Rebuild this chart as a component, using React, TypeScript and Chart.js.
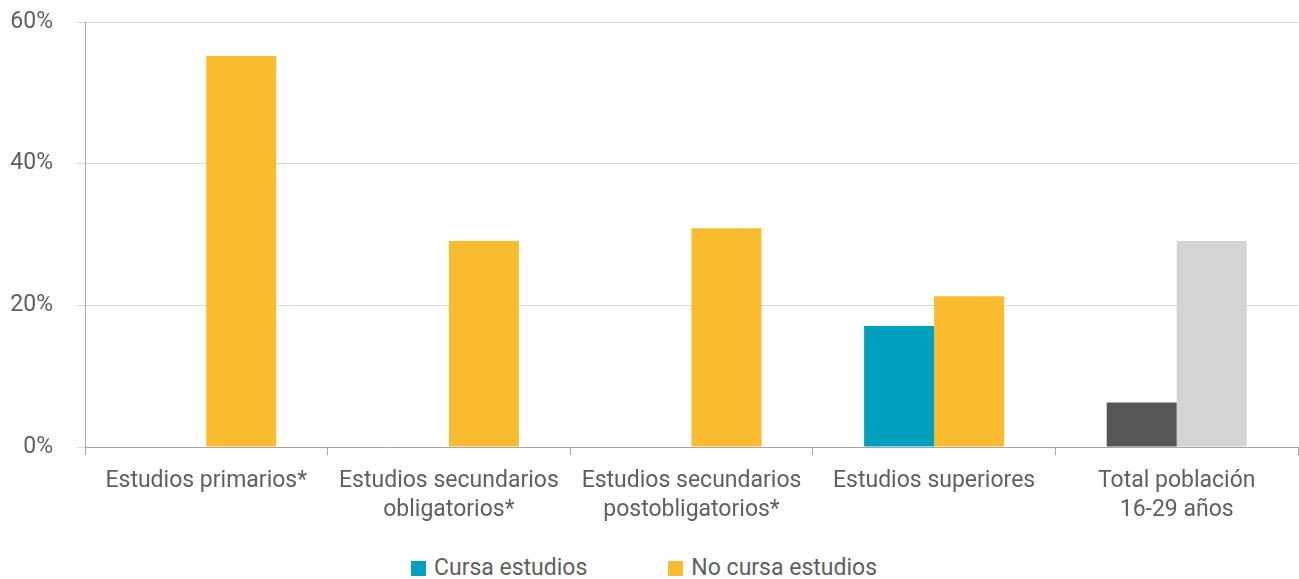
import { useEffect, useRef } from 'react';
import Chart from 'chart.js/auto';

const categories: string[][] = [
  ['Estudios primarios*'],
  ['Estudios secundarios', 'obligatorios*'],
  ['Estudios secundarios', 'postobligatorios*'],
  ['Estudios superiores'],
  ['Total población', '16-29 años'],
];

const cursaValues = [0, 0, 0, 17.1, 6.3];
const noCursaValues = [55.2, 29.1, 30.9, 21.3, 29.1];

const yTicks = [0, 20, 40, 60];

const TEAL = '#00A0BE';
const YELLOW = '#F9BC2E';
const DARK_GREY = '#575756';
const LIGHT_GREY = '#D4D4D4';
const TEXT = '#5f5f5f';
const FONT = 'Roboto, "Noto Sans", sans-serif';

const legendItems = [
  { label: 'Cursa estudios', color: TEAL },
  { label: 'No cursa estudios', color: YELLOW },
];

export default function App() {
  const chartRef = useRef<HTMLCanvasElement>(null);
  const chartInstance = useRef<Chart | null>(null);

  useEffect(() => {
    document.body.style.margin = '0';
    if (!chartRef.current) return;
    const ctx = chartRef.current.getContext('2d');
    if (!ctx) return;

    const last = categories.length - 1;

    chartInstance.current = new Chart(ctx, {
      type: 'bar',
      data: {
        labels: categories,
        datasets: [
          {
            label: 'Cursa estudios',
            data: cursaValues,
            backgroundColor: cursaValues.map((_, i) => (i === last ? DARK_GREY : TEAL)),
            borderWidth: 0,
            categoryPercentage: 0.577,
            barPercentage: 1,
          },
          {
            label: 'No cursa estudios',
            data: noCursaValues,
            backgroundColor: noCursaValues.map((_, i) => (i === last ? LIGHT_GREY : YELLOW)),
            borderWidth: 0,
            categoryPercentage: 0.577,
            barPercentage: 1,
          },
        ],
      },
      options: {
        animation: false,
        responsive: true,
        maintainAspectRatio: false,
        layout: { padding: { top: 22, right: 1, left: 0, bottom: 0 } },
        plugins: {
          legend: { display: false },
          tooltip: { enabled: false },
        },
        scales: {
          x: {
            afterFit: (scale) => {
              scale.height = 93;
            },
            grid: {
              offset: true,
              drawOnChartArea: false,
              drawTicks: true,
              tickLength: 8,
              color: '#a6a6a6',
            },
            border: { color: '#a6a6a6' },
            ticks: {
              color: TEXT,
              font: { family: FONT, size: 23, weight: 400, lineHeight: 1.25 },
              padding: 12,
              autoSkip: false,
              maxRotation: 0,
            },
          },
          y: {
            min: 0,
            max: 60,
            afterFit: (scale) => {
              scale.width = 85;
              // label padding should not push the plot area down
              scale.paddingTop = 0;
              scale.paddingBottom = 0;
            },
            afterBuildTicks: (scale) => {
              scale.ticks = yTicks.map((v) => ({ value: v }));
            },
            grid: { color: '#d9d9d9', tickLength: 8 },
            border: { color: '#a6a6a6' },
            ticks: {
              color: TEXT,
              font: { family: FONT, size: 23, weight: 400 },
              padding: 24,
              callback: (v) => `${v}%`,
            },
          },
        },
      },
    });

    return () => {
      if (chartInstance.current) {
        chartInstance.current.destroy();
        chartInstance.current = null;
      }
    };
  }, []);

  return (
    <div style={{ position: 'relative', width: 1299, height: 579, background: '#fff', fontFamily: FONT }}>
      <div style={{ position: 'absolute', left: 0, top: 0, width: 1299, height: 540 }}>
        <canvas ref={chartRef}></canvas>
      </div>
      <div
        style={{
          position: 'absolute',
          left: 411,
          top: 554,
          display: 'flex',
          alignItems: 'center',
          height: 28,
        }}
      >
        {legendItems.map((item, idx) => (
          <div
            key={idx}
            style={{ display: 'flex', alignItems: 'center', marginRight: idx === 0 ? 81 : 0 }}
          >
            <span style={{ width: 15, height: 15, background: item.color, display: 'inline-block', marginRight: 8 }}></span>
            <span style={{ fontSize: 23, fontWeight: 400, color: TEXT, lineHeight: '28px' }}>{item.label}</span>
          </div>
        ))}
      </div>
    </div>
  );
}
